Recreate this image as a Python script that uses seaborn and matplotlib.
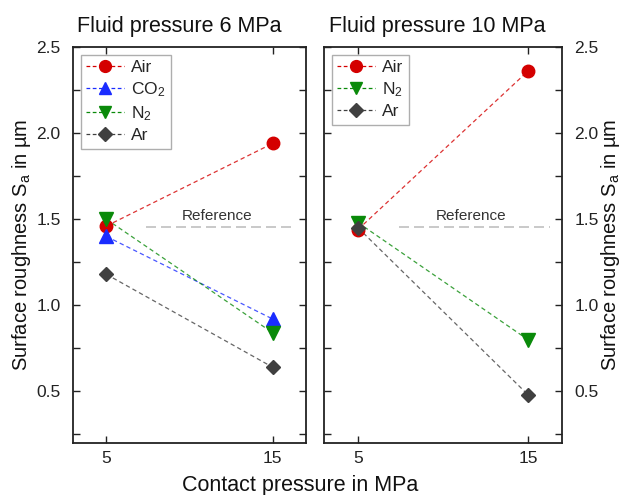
import numpy as np
import pandas as pd
import matplotlib
matplotlib.use("Agg")
import matplotlib.pyplot as plt
from matplotlib.ticker import MultipleLocator, FormatStrFormatter
from matplotlib.lines import Line2D
import seaborn as sns

# ---- data ----
contact = [5, 15]
gases_6 = ["Air", "CO$_2$", "N$_2$", "Ar"]
air_6 = [1.46, 1.94]
co2_6 = [1.40, 0.92]
n2_6 = [1.50, 0.84]
ar_6 = [1.18, 0.64]

gases_10 = ["Air", "N$_2$", "Ar"]
air_10 = [1.44, 2.36]
n2_10 = [1.48, 0.80]
ar_10 = [1.45, 0.48]

reference_value = 1.455
reference_x = [7.4, 16.3]

titles = ["Fluid pressure 6 MPa", "Fluid pressure 10 MPa"]
xlabel = "Contact pressure in MPa"
ylabel = "Surface roughness S$_a$ in µm"

styles = {
    "Air": dict(color="#d40000", marker="o", ms=9),
    "CO$_2$": dict(color="#1a2cff", marker="^", ms=9.5),
    "N$_2$": dict(color="#0a8a0a", marker="v", ms=9.5),
    "Ar": dict(color="#404040", marker="D", ms=7.5),
}

sns.set_theme(style="ticks")
plt.rcParams["font.family"] = ["Liberation Sans", "DejaVu Sans"]
plt.rcParams["mathtext.default"] = "regular"

fig = plt.figure(figsize=(6.24, 4.95), dpi=100)
W, H = 624, 495
ax1 = fig.add_axes([73 / W, 1 - 443 / H, (306 - 73) / W, (443 - 47) / H])
ax2 = fig.add_axes([324 / W, 1 - 443 / H, (562 - 324) / W, (443 - 47) / H])

panels = [
    (ax1, gases_6, [air_6, co2_6, n2_6, ar_6]),
    (ax2, gases_10, [air_10, n2_10, ar_10]),
]
title_x = [179, 437]

for i, (ax, gases, vals) in enumerate(panels):
    # reference line
    ax.plot(reference_x, [reference_value, reference_value], color="#c0c0c0",
            linestyle=(0, (6, 3)), linewidth=1.2, zorder=1)
    ax.text(np.mean(reference_x) - 0.2, reference_value + 0.02, "Reference",
            ha="center", va="bottom", fontsize=11, color="#333333")
    handles = []
    for g, v in zip(gases, vals):
        st = styles[g]
        df = pd.DataFrame({"x": contact, "y": v})
        sns.lineplot(data=df, x="x", y="y", ax=ax, color=st["color"],
                     linestyle=(0, (3.5, 2.5)), linewidth=0.9, alpha=0.8,
                     marker=None, zorder=2)
        ax.plot(contact, v, linestyle="none", marker=st["marker"],
                markersize=st["ms"], color=st["color"],
                markeredgecolor=st["color"], zorder=3)
        handles.append(Line2D([0], [0], color=st["color"], linestyle=(0, (3, 2)),
                              linewidth=0.9, marker=st["marker"],
                              markersize=st["ms"] - 0.5,
                              markerfacecolor=st["color"],
                              markeredgecolor=st["color"], label=g))
    leg = ax.legend(handles=handles, loc="upper left", fontsize=12.5,
                    frameon=True, fancybox=False, edgecolor="#9a9a9a",
                    handlelength=2.2, handletextpad=0.4, labelspacing=0.3,
                    borderpad=0.3, borderaxespad=0.45)
    leg.get_frame().set_linewidth(1.0)

    ax.set_xlim(3, 17)
    ax.set_ylim(0.2, 2.5)
    ax.set_xticks(contact)
    ax.yaxis.set_major_locator(MultipleLocator(0.5))
    ax.yaxis.set_minor_locator(MultipleLocator(0.25))
    ax.yaxis.set_major_formatter(FormatStrFormatter("%.1f"))
    ax.tick_params(axis="both", which="both", direction="in", top=True,
                   right=True, left=True, bottom=True, length=5, width=1.0,
                   labelsize=12.5, colors="#222222")
    ax.tick_params(axis="x", pad=6)
    ax.tick_params(axis="y", which="major", pad=9)
    ax.set_xlabel("")
    ax.set_ylabel("")
    for sp in ax.spines.values():
        sp.set_linewidth(1.3)
        sp.set_color("#222222")
    fig.text(title_x[i] / W, 1 - 32 / H, titles[i], ha="center",
             va="baseline", fontsize=15.5, color="#111111")

ax2.tick_params(axis="y", labelleft=False, labelright=True)
fig.text(22 / W, 1 - 245 / H, ylabel, rotation=90, ha="center", va="center",
         fontsize=14.5, color="#111111")
fig.text(611 / W, 1 - 245 / H, ylabel, rotation=90, ha="center", va="center",
         fontsize=14.5, color="#111111")
fig.text(300 / W, 1 - 491 / H, xlabel, ha="center", va="baseline",
         fontsize=15.5, color="#111111")

fig.savefig("out.png", dpi=100)
